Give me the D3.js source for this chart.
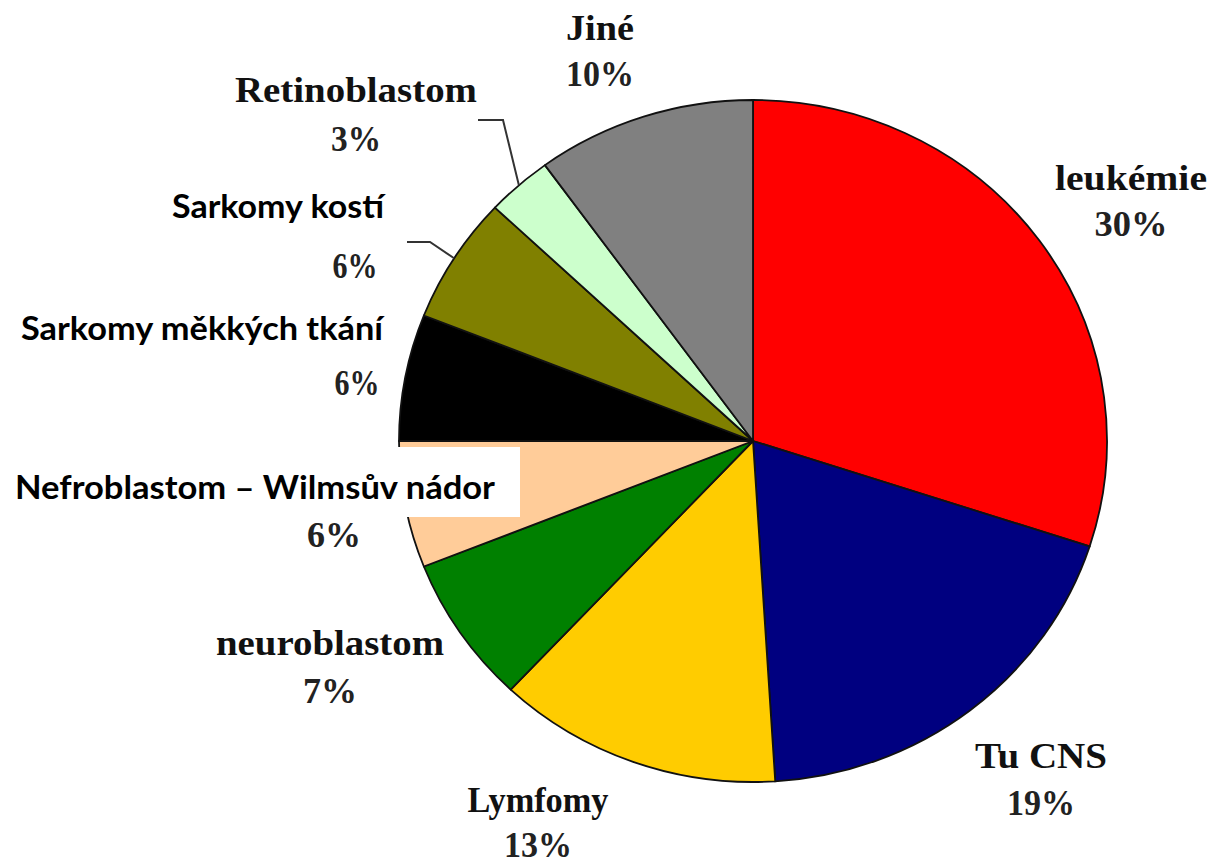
<!DOCTYPE html>
<html>
<head>
<meta charset="utf-8">
<script src="https://cdn.jsdelivr.net/npm/d3@7/dist/d3.min.js"></script>
<style>
  html, body { margin: 0; padding: 0; background: #fff; }
  svg { display: block; }
</style>
</head>
<body>
<svg id="chart" width="1216" height="864"></svg>
<script>
// Childhood cancer types, share of cases (%)
const categories = [
  "leukémie", "Tu CNS", "Lymfomy", "neuroblastom",
  "Nefroblastom – Wilmsův nádor", "Sarkomy měkkých tkání",
  "Sarkomy kostí", "Retinoblastom", "Jiné"
];
const values = [30, 19, 13, 7, 6, 6, 6, 3, 10];
const colors = [
  "#ff0000", "#000080", "#ffcc00", "#008000",
  "#ffcc99", "#000000", "#808000", "#ccffcc", "#808080"
];
const percentLabels = ["30%", "19%", "13%", "7%", "6%", "6%", "6%", "3%", "10%"];

// label placement: centre x, baselines for name / percent, fitted widths
const labelLayout = [
  { x: 1131, y1: 190, y2: 236, w1: 152, w2: 73,  font: "serif" },
  { x: 1041, y1: 768, y2: 815, w1: 132, w2: 68,  font: "serif" },
  { x: 538,  y1: 812, y2: 857, w1: 141, w2: 68,  font: "serif" },
  { x: 330,  y1: 655, y2: 703, w1: 228, w2: 54,  font: "serif" },
  { x: 255,  y1: 499, y2: 547, w1: 480, w2: 54,  font: "sans", px: 334, box: [0, 447, 520, 70] },
  { x: 202,  y1: 340, y2: 395, w1: 362, w2: 45,  font: "sans", px: 357 },
  { x: 278,  y1: 218, y2: 278, w1: 212, w2: 45,  font: "sans", px: 355 },
  { x: 356,  y1: 102, y2: 151, w1: 242, w2: 50,  font: "serif", leader: [[478, 120], [503, 120]] },
  { x: 600,  y1: 40,  y2: 86,  w1: 68,  w2: 68,  font: "serif" }
];
// leader for "Sarkomy kostí"
labelLayout[6].leader = [[407, 242], [430, 242]];

const svg = d3.select("#chart");
const cx = 753, cy = 441, rx = 354, ry = 341;

const pie = d3.pie().sort(null).value(d => d.value);
const data = categories.map((c, i) => ({ name: c, value: values[i], color: colors[i], pct: percentLabels[i], lay: labelLayout[i] }));
const arcs = pie(data);
const arc = d3.arc().innerRadius(0).outerRadius(rx);

const pieG = svg.append("g")
  .attr("transform", `translate(${cx},${cy}) scale(1,${ry / rx})`);

pieG.selectAll("path")
  .data(arcs)
  .join("path")
  .attr("d", arc)
  .attr("fill", d => d.data.color)
  .attr("stroke", "#111")
  .attr("stroke-width", 1.8)
  .attr("stroke-linejoin", "round")
  .attr("vector-effect", "non-scaling-stroke");

// point on the pie rim at a slice's mid angle
function rimPoint(d) {
  const a = (d.startAngle + d.endAngle) / 2;
  return [cx + rx * Math.sin(a), cy - ry * Math.cos(a)];
}

// leader lines
arcs.filter(d => d.data.lay.leader).forEach(d => {
  const pts = d.data.lay.leader.concat([rimPoint(d)]);
  svg.append("path")
    .attr("d", d3.line()(pts))
    .attr("fill", "none")
    .attr("stroke", "#333")
    .attr("stroke-width", 2);
});

// white backing box for relabelled slice
arcs.filter(d => d.data.lay.box).forEach(d => {
  const b = d.data.lay.box;
  svg.append("rect").attr("x", b[0]).attr("y", b[1]).attr("width", b[2]).attr("height", b[3]).attr("fill", "#fff");
});

const serifFont = "'Liberation Serif', 'DejaVu Serif', serif";
const sansFont = "Lato, 'Open Sans', sans-serif";

const labels = svg.append("g");
arcs.forEach(d => {
  const L = d.data.lay;
  const isSans = L.font === "sans";
  labels.append("text")
    .attr("x", L.x).attr("y", L.y1)
    .attr("text-anchor", "middle")
    .attr("font-family", isSans ? sansFont : serifFont)
    .attr("font-weight", "bold")
    .attr("font-size", isSans ? 33 : 36)
    .attr("fill", isSans ? "#000" : "#111")
    .attr("textLength", L.w1)
    .attr("lengthAdjust", "spacingAndGlyphs")
    .text(d.data.name);
  labels.append("text")
    .attr("x", L.px != null ? L.px : L.x).attr("y", L.y2)
    .attr("text-anchor", "middle")
    .attr("font-family", serifFont)
    .attr("font-weight", "bold")
    .attr("font-size", 36)
    .attr("fill", "#222")
    .attr("textLength", L.w2)
    .attr("lengthAdjust", "spacingAndGlyphs")
    .text(d.data.pct);
});
</script>
</body>
</html>
